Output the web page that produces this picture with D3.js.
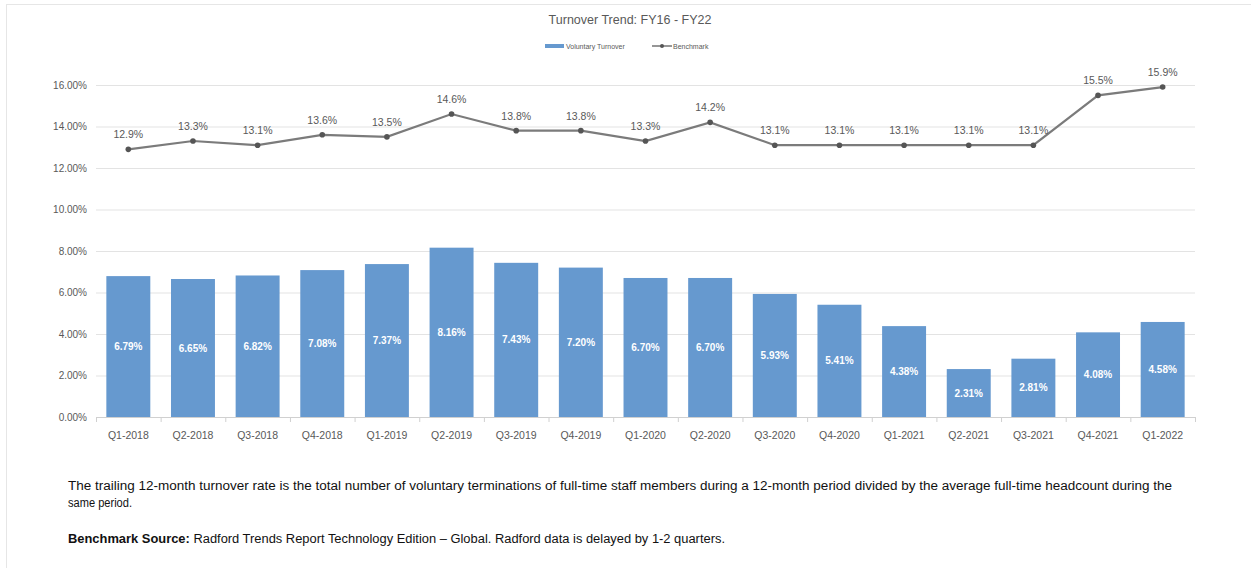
<!DOCTYPE html>
<html><head><meta charset="utf-8">
<script src="https://cdn.jsdelivr.net/npm/d3@7"></script>
<style>body{margin:0;background:#fff;}svg{display:block;font-family:"Liberation Sans",Arial,sans-serif;}</style>
</head><body>
<svg id="c" width="1251" height="568"></svg>
<script>
const categories = ["Q1-2018","Q2-2018","Q3-2018","Q4-2018","Q1-2019","Q2-2019","Q3-2019","Q4-2019","Q1-2020","Q2-2020","Q3-2020","Q4-2020","Q1-2021","Q2-2021","Q3-2021","Q4-2021","Q1-2022"];
const voluntary = [6.79,6.65,6.82,7.08,7.37,8.16,7.43,7.20,6.70,6.70,5.93,5.41,4.38,2.31,2.81,4.08,4.58];
const benchmark = [12.9,13.3,13.1,13.6,13.5,14.6,13.8,13.8,13.3,14.2,13.1,13.1,13.1,13.1,13.1,15.5,15.9];
const yTicks = [0,2,4,6,8,10,12,14,16];
const title = "Turnover Trend: FY16 - FY22";
const seriesNames = ["Voluntary Turnover","Benchmark"];

const svg = d3.select("#c");
// faint frame
svg.append("line").attr("x1",6).attr("x2",1251).attr("y1",4.5).attr("y2",4.5).attr("stroke","#e6e6e6");
svg.append("line").attr("x1",6.5).attr("x2",6.5).attr("y1",4).attr("y2",568).attr("stroke","#e6e6e6");

const L=96, R=1195, T=85, B=417;
const x = d3.scaleBand().domain(categories).range([L,R]).paddingInner(0.32).paddingOuter(0.16);
const y = d3.scaleLinear().domain([0,16]).range([B,T]);

// gridlines
svg.append("g").selectAll("line").data(yTicks.filter(t=>t>0)).join("line")
  .attr("x1",L).attr("x2",R).attr("y1",d=>y(d)+0.5).attr("y2",d=>y(d)+0.5)
  .attr("stroke","#e3e3e3").attr("stroke-width",1);

// y axis labels
const yAxis = d3.axisLeft(y).tickValues(yTicks).tickFormat(d=>d.toFixed(2)+"%").tickSize(0).tickPadding(9);
const yg = svg.append("g").attr("transform",`translate(${L},0)`).call(yAxis);
yg.select(".domain").remove();
yg.selectAll("text").attr("fill","#595959").attr("font-size",10);

// bars
svg.append("g").selectAll("rect").data(voluntary).join("rect")
  .attr("x",(d,i)=>x(categories[i])).attr("width",x.bandwidth())
  .attr("y",d=>y(d)).attr("height",d=>B-y(d))
  .attr("fill","#6699cf");

svg.append("g").selectAll("text").data(voluntary).join("text")
  .attr("x",(d,i)=>x(categories[i])+x.bandwidth()/2)
  .attr("y",d=>(y(d)+B)/2+3.5)
  .attr("text-anchor","middle").attr("fill","#fff").attr("font-weight","bold").attr("font-size",10)
  .text(d=>d.toFixed(2)+"%");

// x axis
const step = x.step();
const xAxis = d3.axisBottom(x).tickSize(0).tickPadding(15);
const xg = svg.append("g").attr("transform",`translate(0,${B})`).call(xAxis);
xg.select(".domain").attr("stroke","#d0d0d0");
xg.selectAll("text").attr("fill","#595959").attr("font-size",10.5);
// ticks between categories
const tickPos = d3.range(categories.length+1).map(i=>L+i*step);
svg.append("g").selectAll("line").data(tickPos).join("line")
  .attr("x1",d=>d+0.5).attr("x2",d=>d+0.5).attr("y1",B).attr("y2",B+5).attr("stroke","#d0d0d0");

// benchmark line
const cx = (i)=>x(categories[i])+x.bandwidth()/2;
const line = d3.line().x((d,i)=>cx(i)).y(d=>y(d));
svg.append("path").datum(benchmark).attr("d",line).attr("fill","none").attr("stroke","#7b7b7b").attr("stroke-width",2.2);
svg.append("g").selectAll("circle").data(benchmark).join("circle")
  .attr("cx",(d,i)=>cx(i)).attr("cy",d=>y(d)).attr("r",2.8).attr("fill","#555");
svg.append("g").selectAll("text").data(benchmark).join("text")
  .attr("x",(d,i)=>cx(i)).attr("y",d=>y(d)-11)
  .attr("text-anchor","middle").attr("fill","#595959").attr("font-size",10.5)
  .text(d=>d.toFixed(1)+"%");

// title
svg.append("text").attr("x",630).attr("y",24).attr("text-anchor","middle")
  .attr("fill","#595959").attr("font-size",12.5).text(title);

// legend
svg.append("rect").attr("x",545).attr("y",44).attr("width",19).attr("height",4).attr("fill","#6699cf");
svg.append("text").attr("x",566).attr("y",48.5).attr("font-size",7).attr("fill","#595959").text(seriesNames[0]);
svg.append("line").attr("x1",652).attr("x2",672).attr("y1",46).attr("y2",46).attr("stroke","#7b7b7b").attr("stroke-width",1.6);
svg.append("circle").attr("cx",662).attr("cy",46).attr("r",2).attr("fill","#555");
svg.append("text").attr("x",673).attr("y",48.5).attr("font-size",7).attr("fill","#595959").text(seriesNames[1]);

// footer notes
const note1 = "The trailing 12-month turnover rate is the total number of voluntary terminations of full-time staff members during a 12-month period divided by the average full-time headcount during the";
const note2 = "same period.";
svg.append("text").attr("x",68).attr("y",490).attr("font-size",12).attr("fill","#111")
  .attr("textLength",1104).attr("lengthAdjust","spacingAndGlyphs").text(note1);
svg.append("text").attr("x",68).attr("y",507).attr("font-size",12.5).attr("fill","#111")
  .attr("textLength",64).attr("lengthAdjust","spacingAndGlyphs").text(note2);
const src = svg.append("text").attr("x",68).attr("y",543).attr("font-size",12).attr("fill","#111")
  .attr("textLength",657).attr("lengthAdjust","spacingAndGlyphs");
src.append("tspan").attr("font-weight","bold").text("Benchmark Source:");
src.append("tspan").text(" Radford Trends Report Technology Edition – Global. Radford data is delayed by 1-2 quarters.");
</script>
</body></html>
